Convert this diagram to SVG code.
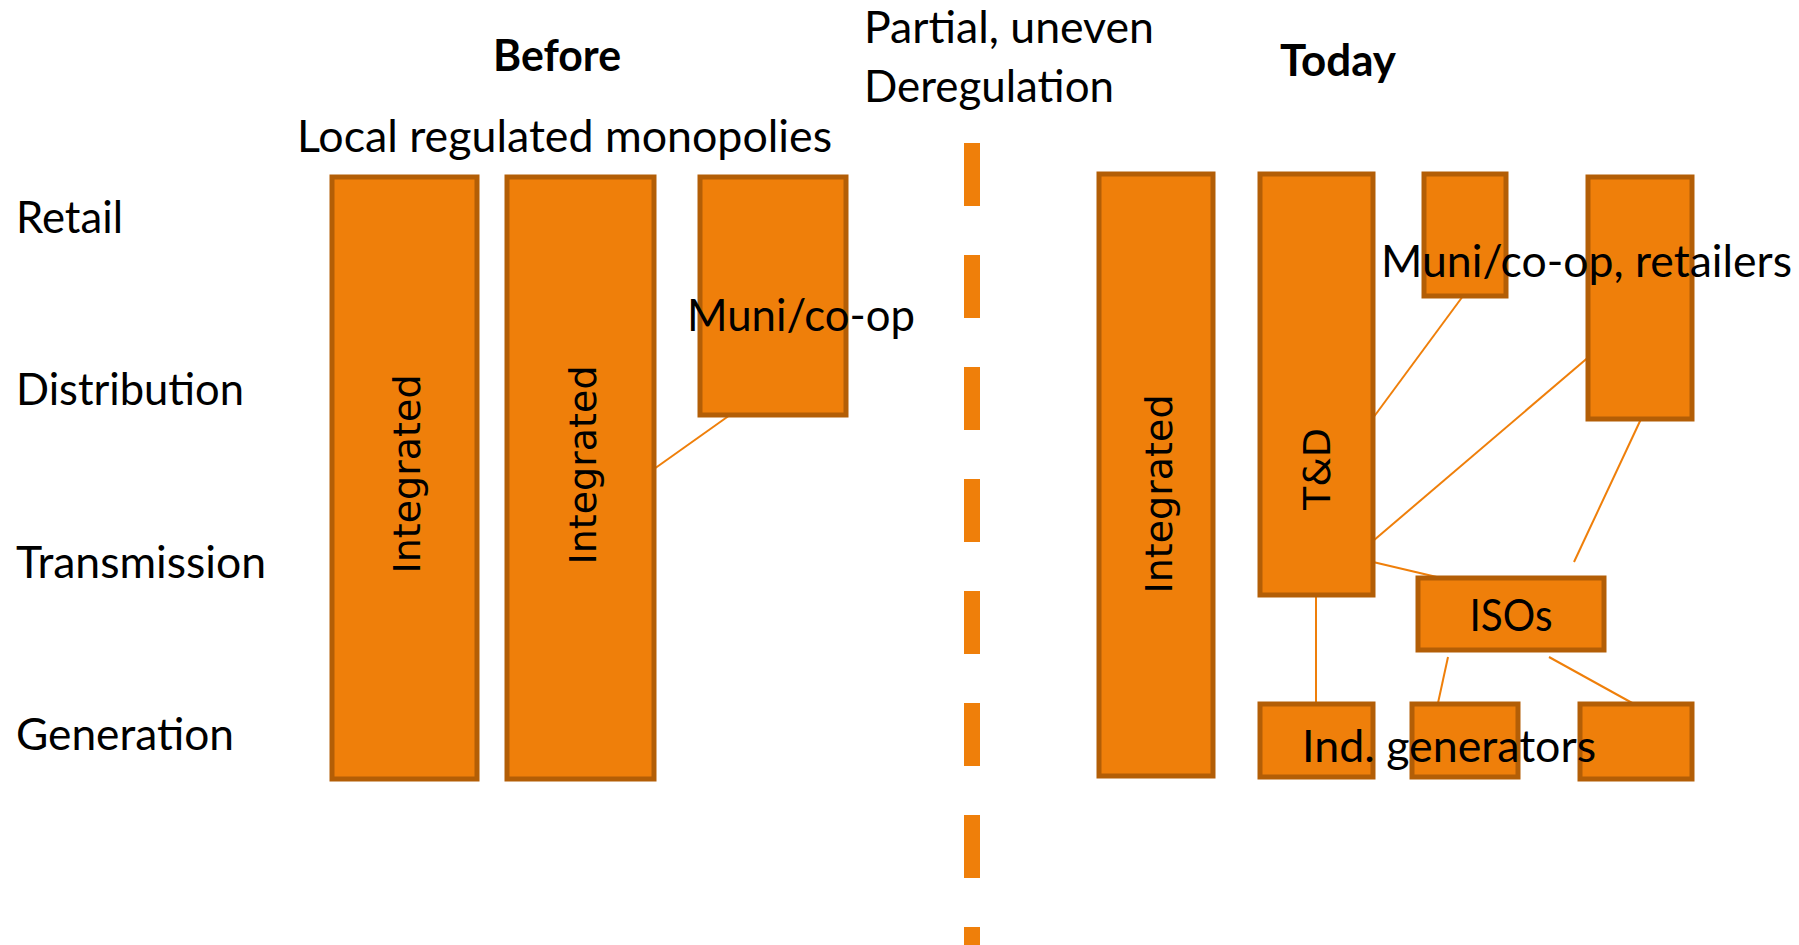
<svg xmlns="http://www.w3.org/2000/svg" width="1799" height="945" viewBox="0 0 1799 945">
<style>
.box{fill:#EF7F0A;stroke:#B35E06;stroke-width:5}
.lbl{font-family:Lato,"Open Sans","Liberation Sans",sans-serif;font-size:44px;fill:#000}
.b{font-weight:bold}
.rot{font-family:"DejaVu Sans",Verdana,sans-serif;font-size:38px;fill:#000}
.ln{stroke:#EF7F0A;stroke-width:2;fill:none}
</style>
<rect width="1799" height="945" fill="#fff"/>
<g id="titles">
<text class="lbl b" x="557" y="71" text-anchor="middle" textLength="128" lengthAdjust="spacingAndGlyphs">Before</text>
<text class="lbl b" x="1338" y="76" text-anchor="middle" textLength="116" lengthAdjust="spacingAndGlyphs">Today</text>
<text class="lbl" x="864" y="43" textLength="290" lengthAdjust="spacingAndGlyphs">Partial, uneven</text>
<text class="lbl" x="864" y="102" textLength="250" lengthAdjust="spacingAndGlyphs">Deregulation</text>
<text class="lbl" x="297" y="152" textLength="535" lengthAdjust="spacingAndGlyphs">Local regulated monopolies</text>
</g>
<g id="rows">
<text class="lbl" x="16" y="233" textLength="107" lengthAdjust="spacingAndGlyphs">Retail</text>
<text class="lbl" x="16" y="405" textLength="228" lengthAdjust="spacingAndGlyphs">Distribution</text>
<text class="lbl" x="16" y="578" textLength="250" lengthAdjust="spacingAndGlyphs">Transmission</text>
<text class="lbl" x="16" y="750" textLength="218" lengthAdjust="spacingAndGlyphs">Generation</text>
</g>
<g id="divider">
<line x1="972" y1="143" x2="972" y2="945" stroke="#EF7F0A" stroke-width="16" stroke-dasharray="63 49"/>
</g>
<g id="connectors">
<line class="ln" x1="654" y1="469" x2="730" y2="415"/>
<line class="ln" x1="1373" y1="418" x2="1463" y2="296"/>
<line class="ln" x1="1373" y1="541" x2="1591" y2="355"/>
<line class="ln" x1="1574" y1="562" x2="1641" y2="419"/>
<line class="ln" x1="1373" y1="562" x2="1441" y2="578"/>
<line class="ln" x1="1316" y1="596" x2="1316" y2="704"/>
<line class="ln" x1="1448" y1="657" x2="1438" y2="703"/>
<line class="ln" x1="1549" y1="657" x2="1634" y2="704"/>
</g>
<g id="before-integrated-1">
<rect class="box" x="332" y="177" width="145" height="602"/>
<text class="rot" transform="translate(407,474) rotate(-90)" text-anchor="middle" dominant-baseline="central">Integrated</text>
</g>
<g id="before-integrated-2">
<rect class="box" x="507" y="177" width="147" height="602"/>
<text class="rot" transform="translate(583,465) rotate(-90)" text-anchor="middle" dominant-baseline="central">Integrated</text>
</g>
<g id="before-muni">
<rect class="box" x="700" y="177" width="146" height="238"/>
<text class="lbl" x="687" y="331" textLength="228" lengthAdjust="spacingAndGlyphs">Muni/co-op</text>
</g>
<g id="today-integrated">
<rect class="box" x="1099" y="174" width="114" height="602"/>
<text class="rot" transform="translate(1159,494) rotate(-90)" text-anchor="middle" dominant-baseline="central">Integrated</text>
</g>
<g id="today-td">
<rect class="box" x="1260" y="174" width="113" height="421"/>
<text class="rot" transform="translate(1317,469) rotate(-90)" text-anchor="middle" dominant-baseline="central">T&amp;D</text>
</g>
<g id="today-muni-small">
<rect class="box" x="1424" y="174" width="82" height="122"/>
</g>
<g id="today-retailers">
<rect class="box" x="1588" y="177" width="104" height="242"/>
</g>
<g id="muni-label">
<text class="lbl" x="1381" y="277" textLength="411" lengthAdjust="spacingAndGlyphs">Muni/co-op, retailers</text>
</g>
<g id="isos">
<rect class="box" x="1418" y="578" width="186" height="72"/>
<text class="lbl" x="1511" y="631" text-anchor="middle" textLength="83" lengthAdjust="spacingAndGlyphs">ISOs</text>
</g>
<g id="gen-1">
<rect class="box" x="1260" y="704" width="113" height="73"/>
</g>
<g id="gen-2">
<rect class="box" x="1412" y="704" width="106" height="73"/>
</g>
<g id="gen-3">
<rect class="box" x="1580" y="704" width="112" height="75"/>
</g>
<g id="gen-label">
<text class="lbl" x="1302" y="762" textLength="294" lengthAdjust="spacingAndGlyphs">Ind. generators</text>
</g>
</svg>
